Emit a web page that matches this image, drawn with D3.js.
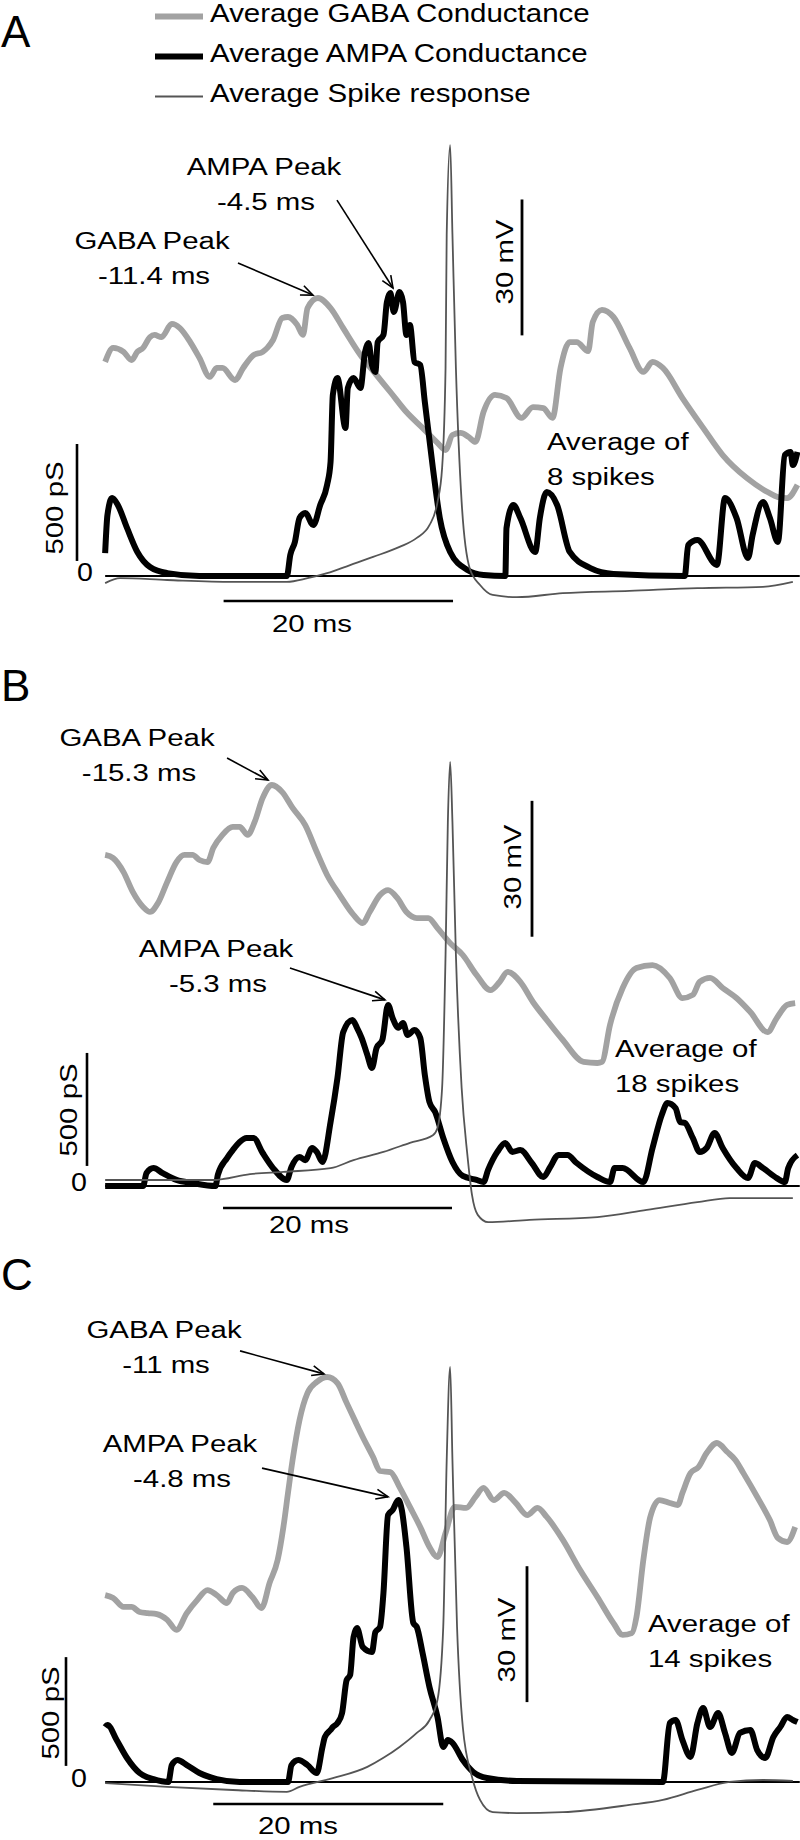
<!DOCTYPE html>
<html>
<head>
<meta charset="utf-8">
<script src="https://cdn.jsdelivr.net/npm/d3@7"></script>
<style>
  body { margin: 0; background: #fff; }
  text { font-family: "Liberation Sans", Arial, sans-serif; fill: #000; }
</style>
</head>
<body>
<div id="chart"></div>
<script>
// Traces: [time (ms, spike peak = 0), value]
// conductances in pS, spike response in mV

// Panel A
var gabaA = [[-29.9,811],[-29.2,864],[-28.3,849],[-27.6,818],[-27.1,849],[-26.6,864],[-26.0,905],[-25.6,913],[-25.0,905],[-24.1,955],[-23.4,939],[-22.5,886],[-21.7,826],[-20.8,754],[-20.2,788],[-19.7,788],[-18.6,742],[-17.9,788],[-17.0,837],[-16.2,849],[-15.8,864],[-15.3,894],[-14.5,977],[-14.0,981],[-13.2,951],[-12.7,913],[-12.3,1015],[-11.4,1053],[-10.3,1015],[-9.2,939],[-7.7,837],[-6.3,761],[-5.1,697],[-3.7,621],[-2.3,561],[-1.0,504],[-0.3,477],[0.3,534],[1.0,542],[1.7,527],[2.3,508],[3.0,621],[4.0,686],[5.0,674],[6.3,599],[7.3,640],[8.2,636],[9.0,599],[9.7,788],[10.5,886],[11.1,886],[12.1,852],[12.5,962],[13.3,1008],[14.3,981],[15.7,864],[16.9,773],[17.7,811],[18.6,788],[20.3,674],[22.1,561],[23.8,458],[25.9,371],[27.7,318],[28.6,299],[29.4,295],[30.3,345]];
var ampaA = [[-29.9,87],[-29.7,231],[-29.3,295],[-28.8,269],[-28.0,182],[-27.1,91],[-26.0,34],[-24.5,11],[-21.7,0],[-14.1,0],[-13.8,80],[-13.4,129],[-13.0,220],[-12.5,239],[-11.8,193],[-11.2,269],[-10.6,345],[-10.3,432],[-10.1,686],[-9.7,750],[-9.0,561],[-8.8,712],[-8.3,750],[-7.7,712],[-7.3,849],[-7.0,883],[-6.7,799],[-6.4,773],[-6.2,886],[-5.7,913],[-5.4,1038],[-5.1,1072],[-4.8,1000],[-4.3,1076],[-4.0,1038],[-3.7,913],[-3.4,951],[-3.0,811],[-2.5,799],[-2.1,659],[-1.4,409],[-0.8,220],[0.1,91],[1.6,23],[3.0,4],[4.9,0],[5.0,182],[5.6,269],[6.2,220],[7.5,91],[7.9,220],[8.5,318],[9.4,269],[10.5,91],[12.3,30],[14.3,8],[20.5,0],[20.8,117],[21.6,136],[23.3,42],[24.0,295],[25.0,220],[26.0,68],[26.4,155],[27.3,280],[27.9,220],[28.6,129],[29.2,458],[29.7,470],[29.9,420],[30.3,470]];
var spikeA = [[-29.9,-60.7],[-28.6,-59.6],[-24.5,-60],[-18.8,-60.4],[-14.1,-60.4],[-12.3,-59.6],[-10.6,-58.5],[-8.6,-56.7],[-6.6,-54.9],[-4.3,-52.7],[-2.8,-50.7],[-1.7,-47.9],[-1.0,-42.8],[-0.6,-35.3],[-0.3,-13.2],[-0.2,16.2],[0.1,36.0],[0.3,16.2],[0.6,-13.2],[1.1,-42.8],[1.8,-57.4],[2.7,-61.1],[3.8,-63.3],[5.9,-63.8],[9.9,-62.9],[15.7,-62.4],[21.6,-61.8],[27.3,-61.5],[29.9,-60.4]];

// Panel B
var gabaB = [[-29.9,1254],[-29.2,1242],[-28.3,1189],[-27.5,1114],[-26.6,1057],[-26.0,1038],[-25.3,1072],[-24.5,1152],[-23.7,1227],[-23.0,1254],[-22.3,1254],[-21.7,1235],[-21.0,1227],[-20.5,1280],[-19.7,1330],[-18.8,1360],[-18.2,1360],[-17.5,1330],[-16.9,1379],[-16.2,1470],[-15.4,1519],[-14.5,1492],[-13.6,1432],[-12.5,1367],[-11.5,1265],[-10.6,1178],[-9.5,1102],[-8.3,1027],[-7.5,996],[-6.9,1038],[-6.0,1102],[-5.3,1121],[-4.5,1091],[-3.7,1038],[-2.8,1015],[-1.8,1015],[-1.0,977],[0.1,920],[1.2,875],[2.4,799],[3.6,742],[4.4,773],[5.1,811],[6.2,773],[7.3,697],[8.5,629],[9.9,553],[11.7,470],[12.9,466],[13.3,470],[14.0,610],[15.1,750],[16.3,826],[17.7,837],[19.2,788],[20.3,712],[21.2,724],[21.8,773],[22.7,788],[23.8,750],[25.0,712],[26.2,659],[27.7,583],[28.5,636],[29.4,686],[30.1,693]];
var ampaB = [[-29.9,0],[-26.6,0],[-26.3,49],[-25.7,68],[-24.9,49],[-23.7,23],[-22.3,11],[-20.3,0],[-20.1,42],[-19.3,106],[-18.8,136],[-18.2,167],[-17.6,182],[-17.0,182],[-16.2,125],[-15.3,68],[-14.1,23],[-13.7,72],[-13.0,110],[-12.5,98],[-11.9,144],[-11.5,129],[-11.0,91],[-10.3,242],[-9.7,409],[-9.2,583],[-8.4,629],[-8.0,599],[-7.6,561],[-7.1,496],[-6.7,447],[-6.3,523],[-5.8,553],[-5.3,686],[-4.9,636],[-4.4,599],[-4.0,617],[-3.6,572],[-3.0,591],[-2.5,561],[-2.1,420],[-1.7,318],[-1.2,280],[-0.5,182],[0.3,91],[1.2,38],[2.4,23],[3.0,15],[3.4,61],[4.2,129],[4.9,163],[5.5,129],[6.2,136],[7.2,87],[8.2,34],[8.8,72],[9.5,117],[10.3,117],[11.1,87],[12.9,34],[14.0,15],[14.4,68],[15.1,68],[16.9,15],[17.7,144],[18.5,269],[19.0,314],[19.7,295],[20.1,242],[20.5,239],[21.2,182],[21.8,129],[22.4,144],[23.1,201],[23.8,144],[25.0,68],[26.0,30],[26.6,87],[27.3,68],[28.5,30],[29.2,15],[29.5,68],[30.3,117]];
var spikeB = [[-29.9,-60],[-20.5,-60],[-17.3,-58.7],[-14.4,-58.2],[-10.3,-57.4],[-8.3,-55.6],[-5.7,-53.8],[-3.4,-51.8],[-1.4,-50.1],[-1.0,-48.5],[-0.6,-39.7],[-0.3,-10.3],[-0.1,19.0],[0.1,32.3],[0.3,19.0],[0.6,-10.3],[1.1,-39.7],[1.6,-54.5],[2.0,-63.3],[2.5,-67.7],[3.4,-69.3],[7.0,-68.8],[12.9,-68.2],[17.2,-66.6],[21.6,-64.9],[24.4,-64.0],[27.3,-64.0],[29.9,-64.0]];

// Panel C
var gabaC = [[-29.9,708],[-29.2,697],[-28.3,663],[-27.6,663],[-26.9,644],[-26.2,640],[-25.4,636],[-24.5,614],[-23.7,576],[-22.8,640],[-21.9,689],[-21.0,727],[-20.2,708],[-19.3,678],[-18.8,716],[-18.0,735],[-17.1,701],[-16.3,659],[-15.6,754],[-14.9,841],[-14.4,966],[-14.0,1095],[-13.6,1220],[-13.0,1371],[-12.3,1474],[-11.5,1515],[-10.6,1534],[-9.7,1511],[-8.9,1436],[-8.2,1371],[-7.5,1307],[-6.6,1231],[-6.0,1178],[-5.1,1174],[-4.3,1117],[-3.4,1042],[-2.5,966],[-1.7,890],[-1.0,852],[-0.3,943],[0.5,1042],[1.5,1038],[2.3,1080],[3.0,1114],[3.9,1068],[4.8,1095],[5.8,1057],[6.8,1011],[7.7,1038],[8.5,1004],[9.9,917],[11.4,803],[12.9,701],[14.3,602],[15.1,557],[15.9,564],[16.3,625],[16.9,841],[17.5,1004],[18.3,1068],[19.2,1057],[19.9,1049],[20.3,1095],[21.0,1170],[21.7,1193],[22.4,1246],[23.3,1284],[24.2,1250],[24.9,1220],[25.6,1170],[26.8,1080],[27.9,992],[28.6,924],[29.4,909],[30.1,966]];
var ampaC = [[-29.9,208],[-29.7,216],[-28.9,159],[-28.0,91],[-26.9,34],[-25.7,11],[-24.4,0],[-24.1,64],[-23.6,83],[-22.8,64],[-21.7,34],[-20.2,11],[-18.2,0],[-14.0,0],[-13.7,64],[-13.1,83],[-12.3,64],[-11.5,34],[-11.0,133],[-10.8,170],[-10.3,197],[-10.1,208],[-9.7,223],[-9.3,261],[-8.9,386],[-8.6,405],[-8.3,549],[-8.0,583],[-7.5,511],[-6.7,492],[-6.4,568],[-6.0,587],[-5.7,716],[-5.3,1011],[-4.9,1030],[-4.4,1068],[-4.1,1030],[-3.7,890],[-3.1,602],[-2.8,587],[-2.3,489],[-1.7,360],[-1.0,246],[-0.5,133],[-0.1,159],[0.3,148],[1.2,83],[2.1,38],[3.3,15],[5.9,4],[18.6,0],[19.2,223],[19.7,235],[20.3,159],[21.0,95],[21.6,223],[22.1,280],[22.7,208],[23.4,261],[24.0,186],[24.6,110],[25.3,186],[26.2,197],[26.8,121],[27.5,91],[28.2,170],[28.8,208],[29.4,246],[29.9,235],[30.3,227]];
var spikeC = [[-29.9,-59.6],[-24.5,-60.4],[-18.8,-61.1],[-14.1,-61.5],[-13.0,-60.4],[-10.1,-58.5],[-7.1,-56.0],[-5.7,-54.0],[-4.3,-51.6],[-2.8,-48.5],[-1.7,-45.7],[-1.0,-41.2],[-0.5,-25.1],[-0.2,11.7],[0.1,32.3],[0.3,11.7],[0.7,-25.1],[1.2,-47.2],[2.0,-58.2],[2.7,-63.3],[3.8,-66.0],[5.9,-66.2],[9.9,-66.0],[15.7,-64.4],[18.6,-63.3],[21.6,-61.1],[24.4,-59.3],[27.3,-58.9],[29.9,-59.1]];

// Annotation texts
var panelLetters = ["A", "B", "C"];
var gabaPeakText = ["-11.4 ms", "-15.3 ms", "-11 ms"];
var ampaPeakText = ["-4.5 ms", "-5.3 ms", "-4.8 ms"];
var spikeCounts = ["8 spikes", "18 spikes", "14 spikes"];
var legendNames = ["Average GABA Conductance", "Average AMPA Conductance", "Average Spike response"];

// Arrows in data units: [tail t, tail pS, tip t, tip pS]
var gabaArrows = [[-18.35,1186,-11.83,1064], [-19.3,1621,-15.74,1538], [-18.17,1633,-10.87,1546]];
var ampaArrows = [[-9.74,1424,-4.87,1091], [-13.83,826,-5.57,705], [-16.26,1189,-5.3,1080]];

// Scale bars: time (ms), conductance (pS), voltage (mV)
var timeBars = [[-19.6,0.35], [-19.65,0.26], [-20.5,-0.5]];
var psBars = [[57,500], [76,504], [61,473]];
var mvBars = [[-6,24], [-6.3,23.7], [-41.7,-11.7]];

// Layout of each panel (pixels)
var panels = [
    {zeroY: 576, letterY: 47, vOff: 4, psX: 77, mvX: 522, zeroX: 77, timeBarY: 25,
     gabaTxt: [152, -327], ampaTxt: [264, -401], avgTxt: [547, -126],
     mvTxt: [513, -314], psTxt: [63, -68], timeTxt: [312, 56]},
    {zeroY: 1186, letterY: 701, vOff: -6, psX: 87, mvX: 532, zeroX: 71, timeBarY: 22,
     gabaTxt: [137, -440], ampaTxt: [216, -229], avgTxt: [615, -129],
     mvTxt: [521, -319], psTxt: [77, -76], timeTxt: [309, 47]},
    {zeroY: 1782, letterY: 1290, vOff: 3, psX: 66, mvX: 527, zeroX: 71, timeBarY: 22,
     gabaTxt: [164, -444], ampaTxt: [180, -330], avgTxt: [648, -150],
     mvTxt: [515, -142], psTxt: [59, -69], timeTxt: [298, 52]}
];
var traces = [[gabaA, ampaA, spikeA], [gabaB, ampaB, spikeB], [gabaC, ampaC, spikeC]];

var gabaColor = "#a2a2a2", spikeColor = "#555555";
var stretch = 1.2;   // label font looks wide in the figure

var width = 800, height = 1840;

var svg = d3.select("#chart")
    .append("svg")
        .attr("width", width)
        .attr("height", height);

// Arrowhead marker (open V)
svg.append("defs").append("marker")
    .attr("id", "arrow")
    .attr("viewBox", "-13 -7 15 14")
    .attr("refX", 0).attr("refY", 0)
    .attr("markerUnits", "userSpaceOnUse")
    .attr("markerWidth", 15).attr("markerHeight", 14)
    .attr("orient", "auto")
    .append("path")
        .attr("d", "M-12,-5 L0,0 L-12,5")
        .attr("fill", "none")
        .attr("stroke", "#000")
        .attr("stroke-width", 1.6);

// Shared time scale
var x = d3.scaleLinear().domain([-30, 30.5]).range([104, 799.75]);
// Conductance scale (relative to each panel's zero line)
var yG = d3.scaleLinear().domain([0, 500]).range([0, -132]);

function addText(sel, txt, px, py, opts) {
    opts = opts || {};
    var size = opts.size || 24.5,
        sx = opts.sx || stretch,
        rot = opts.rotate || 0;
    return sel.append("text")
        .attr("transform", "translate(" + px + "," + py + ") rotate(" + rot + ") scale(" + sx + ",1)")
        .attr("text-anchor", opts.anchor || "middle")
        .style("font-size", size + "px")
        .text(txt);
}

// Legend
var legend = svg.append("g");
var legendStyles = [
    {color: gabaColor, w: 6},
    {color: "#000", w: 6},
    {color: spikeColor, w: 2}
];
legendNames.forEach(function(name, i) {
    var ly = 16.5 + i * 40;
    legend.append("line")
        .attr("x1", 155).attr("x2", 203)
        .attr("y1", ly).attr("y2", ly)
        .attr("stroke", legendStyles[i].color)
        .attr("stroke-width", legendStyles[i].w);
    addText(legend, name, 210, ly + 5.5, {size: 25, sx: 1.18, anchor: "start"});
});

panels.forEach(function(p, i) {
    // panel letter
    addText(svg, panelLetters[i], 1, p.letterY, {size: 44, sx: 1, anchor: "start"});

    var g = svg.append("g")
        .attr("transform", "translate(0," + p.zeroY + ")");

    var yV = d3.scaleLinear().domain([-60, -30]).range([p.vOff, p.vOff - 135.9]);

    // zero line
    g.append("line")
        .attr("x1", x(-29.9)).attr("x2", x(30.5))
        .attr("y1", 0).attr("y2", 0)
        .attr("stroke", "#000")
        .attr("stroke-width", 2.2);

    var lineG = d3.line()
        .x(function(d) { return x(d[0]); })
        .y(function(d) { return yG(d[1]); })
        .curve(d3.curveMonotoneX);
    var lineV = d3.line()
        .x(function(d) { return x(d[0]); })
        .y(function(d) { return yV(d[1]); })
        .curve(d3.curveMonotoneX);

    // GABA (thick gray)
    g.append("path")
        .datum(traces[i][0])
        .attr("d", lineG)
        .attr("fill", "none")
        .attr("stroke", gabaColor)
        .attr("stroke-width", 5.8)
        .attr("stroke-linejoin", "round");

    // AMPA (thick black)
    g.append("path")
        .datum(traces[i][1])
        .attr("d", lineG)
        .attr("fill", "none")
        .attr("stroke", "#000")
        .attr("stroke-width", 6)
        .attr("stroke-linejoin", "round");

    // Spike (thin dark gray)
    g.append("path")
        .datum(traces[i][2])
        .attr("d", lineV)
        .attr("fill", "none")
        .attr("stroke", spikeColor)
        .attr("stroke-width", 1.8)
        .attr("stroke-linejoin", "round");

    // Scale bars
    g.append("line")
        .attr("x1", x(timeBars[i][0])).attr("x2", x(timeBars[i][1]))
        .attr("y1", p.timeBarY).attr("y2", p.timeBarY)
        .attr("stroke", "#000").attr("stroke-width", 2.6);
    g.append("line")
        .attr("x1", p.psX).attr("x2", p.psX)
        .attr("y1", yG(psBars[i][0])).attr("y2", yG(psBars[i][1]))
        .attr("stroke", "#000").attr("stroke-width", 2.6);
    g.append("line")
        .attr("x1", p.mvX).attr("x2", p.mvX)
        .attr("y1", yV(mvBars[i][0])).attr("y2", yV(mvBars[i][1]))
        .attr("stroke", "#000").attr("stroke-width", 2.8);

    addText(g, "20 ms", p.timeTxt[0], p.timeTxt[1]);
    addText(g, "500 pS", p.psTxt[0], p.psTxt[1], {rotate: -90});
    addText(g, "30 mV", p.mvTxt[0], p.mvTxt[1], {rotate: -90});
    addText(g, "0", p.zeroX, 5, {size: 26, sx: 1.1, anchor: "start"});

    // Peak annotations
    addText(g, "GABA Peak", p.gabaTxt[0], p.gabaTxt[1]);
    addText(g, gabaPeakText[i], p.gabaTxt[0] + 2, p.gabaTxt[1] + 35);
    addText(g, "AMPA Peak", p.ampaTxt[0], p.ampaTxt[1]);
    addText(g, ampaPeakText[i], p.ampaTxt[0] + 2, p.ampaTxt[1] + 35);

    [gabaArrows[i], ampaArrows[i]].forEach(function(a) {
        g.append("line")
            .attr("x1", x(a[0])).attr("y1", yG(a[1]))
            .attr("x2", x(a[2])).attr("y2", yG(a[3]))
            .attr("stroke", "#000")
            .attr("stroke-width", 1.6)
            .attr("marker-end", "url(#arrow)");
    });

    addText(g, "Average of", p.avgTxt[0], p.avgTxt[1], {anchor: "start"});
    addText(g, spikeCounts[i], p.avgTxt[0], p.avgTxt[1] + 35, {anchor: "start"});
});
</script>
</body>
</html>
